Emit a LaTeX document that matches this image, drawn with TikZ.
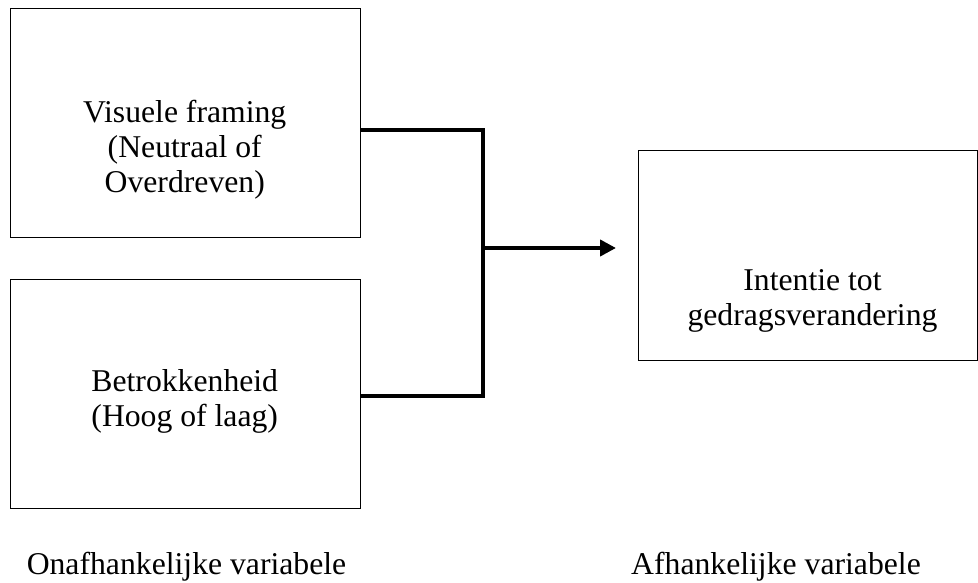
\documentclass[tikz,border=0pt]{standalone}
\usepackage{fontspec}
\setmainfont{Liberation Serif}
\usetikzlibrary{arrows.meta}
\begin{document}
\begin{tikzpicture}[x=1pt,y=-1pt,
  box/.style={draw=black,line width=1pt,inner sep=0pt,anchor=north west},
  txt/.style={inner sep=0pt,anchor=base,align=center,font=\fontsize{31.7}{35}\selectfont},
  conn/.style={draw=black,line width=4pt,line join=miter}]
\useasboundingbox (0,0) rectangle (978,583);
% boxes
\node[box,minimum width=350.5pt,minimum height=229pt] (b1) at (9.5,8) {};
\node[box,minimum width=350.5pt,minimum height=229pt] (b2) at (9.5,279) {};
\node[box,minimum width=339pt,minimum height=210pt] (b3) at (638,150) {};
% texts (base anchor = baseline of the last line)
\node[txt] (t1) at (184.75,192.7) {Visuele framing\\(Neutraal of\\Overdreven)};
\node[txt] (t2) at (184.75,426.7) {Betrokkenheid\\(Hoog of laag)};
\node[txt] (t3) at (812.5,325) {Intentie tot\\gedragsverandering};
\node[txt] (l1) at (186.5,574) {Onafhankelijke variabele};
\node[txt] (l2) at (776,574) {Afhankelijke variabele};
% connectors
\coordinate (j) at (483,248);
\draw[conn] ([yshift=-7.5pt]b1.east) -| (j);
\draw[conn] ([yshift=-1.5pt]b2.east) -| (j);
\draw[conn,-{Triangle[length=16pt,width=16pt]},shorten >=22pt] (j) -- (j -| b3.west);
\end{tikzpicture}
\end{document}
